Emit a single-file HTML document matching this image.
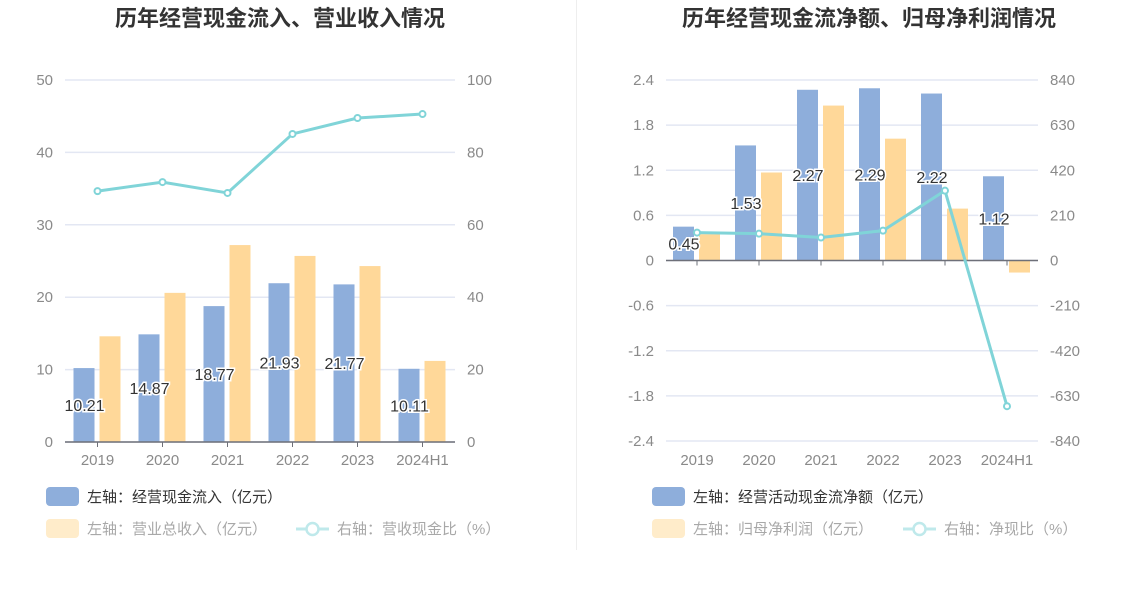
<!DOCTYPE html>
<html><head><meta charset="utf-8">
<style>
html,body{margin:0;padding:0;background:#fff;}
body{width:1148px;height:589px;overflow:hidden;font-family:"Liberation Sans","Noto Sans CJK SC",sans-serif;}
svg text{font-family:"Liberation Sans","Noto Sans CJK SC",sans-serif;}
</style></head>
<body>
<svg id="c" width="1148" height="589" xmlns="http://www.w3.org/2000/svg"></svg>
<script>
const categories = ["2019","2020","2021","2022","2023","2024H1"];
const leftBlue = [10.21,14.87,18.77,21.93,21.77,10.11];
const leftOrange = [14.6,20.6,27.2,25.7,24.3,11.2];
const leftLine = [69.3,71.8,68.8,85.1,89.5,90.6];
const leftTicksL = [0,10,20,30,40,50];
const leftTicksR = [0,20,40,60,80,100];
const rightBlue = [0.45,1.53,2.27,2.29,2.22,1.12];
const rightOrange = [0.35,1.17,2.06,1.62,0.69,-0.16];
const rightLine = [130,125,107,139,325,-678];
const rightTicksL = [-2.4,-1.8,-1.2,-0.6,0,0.6,1.2,1.8,2.4];
const rightTicksR = [-840,-630,-420,-210,0,210,420,630,840];

const NS="http://www.w3.org/2000/svg";
const svg=document.getElementById('c');
function mk(tag,attrs,parent){const e=document.createElementNS(NS,tag);for(const k in attrs)e.setAttribute(k,attrs[k]);(parent||svg).appendChild(e);return e;}
function txt(s,attrs,parent){const e=mk('text',attrs,parent);e.textContent=s;return e;}

function chart(o){
  const g=mk('g',{});
  
  
  const t=txt(o.title,{x:o.cx,y:26,'text-anchor':'middle','font-size':22,'font-weight':'bold',fill:'#333'},g);
  
  
  const yL=v=>o.y0-(v-o.lmin)/(o.lmax-o.lmin)*(o.y0-o.y1);
  const yR=v=>o.y0-(v-o.rmin)/(o.rmax-o.rmin)*(o.y0-o.y1);
  const bw=(o.x1-o.x0)/categories.length;
  const xc=i=>o.x0+bw*(i+0.5);
  o.ticksL.forEach((v,i)=>{
    const y=yL(v);
    const gl=mk('line',{x1:o.x0,x2:o.x1,y1:y,y2:y,stroke:'#e3e7f3','stroke-width':1.5},g);
    
    
    const tl=txt(String(v),{x:o.x0-12,y:y+5,'text-anchor':'end','font-size':15,fill:'#8a8a8a'},g);
    
    
    const tr=txt(String(o.ticksR[i]),{x:o.x1+12,y:y+5,'text-anchor':'start','font-size':15,fill:'#8a8a8a'},g);
    
    
  });
  const zy=yL(0);
  categories.forEach((c,i)=>{
    const x=xc(i);
    const b1=o.blue[i],b2=o.orange[i];
    const r1=mk('rect',{x:x-24,y:Math.min(yL(b1),zy),width:21,height:Math.abs(yL(b1)-zy),fill:'#8eaedb'},g);
    
    
    const r2=mk('rect',{x:x+2,y:Math.min(yL(b2),zy),width:21,height:Math.abs(yL(b2)-zy),fill:'#ffd899'},g);
    
    
  });
  const ax=mk('line',{x1:o.x0,x2:o.x1,y1:zy,y2:zy,stroke:'#6e7079','stroke-width':1.5},g);
  
  
  categories.forEach((c,i)=>{
    const x=xc(i);
    const tk=mk('line',{x1:x,x2:x,y1:zy,y2:zy+5,stroke:'#6e7079','stroke-width':1},g);
    
    
    const xl=txt(c,{x:x,y:o.labelY,'text-anchor':'middle','font-size':15,fill:'#8a8a8a'},g);
    
    
  });
  const pts=o.line.map((v,i)=>[xc(i),yR(v)]);
  const pl=mk('polyline',{points:pts.map(p=>p.join(',')).join(' '),fill:'none',stroke:'#80d4d8','stroke-width':3},g);
  
  
  pts.forEach((p,i)=>{
    const ci=mk('circle',{cx:p[0],cy:p[1],r:3,fill:'#fff',stroke:'#80d4d8','stroke-width':2},g);
    
    
  });
  categories.forEach((c,i)=>{
    const v=o.blue[i];
    const y=(yL(v)+zy)/2+6;
    const l=txt(v.toFixed(2),{x:xc(i)-13,y:y,'text-anchor':'middle','font-size':16,fill:'#333',stroke:'#fff','stroke-width':3,'paint-order':'stroke'},g);
    
    
  });
  const lx=o.legX;
  const r1=mk('rect',{x:lx,y:487,width:33,height:19,rx:4,fill:'#8eaedb'},g);
  
  
  const t1=txt(o.leg1,{x:lx+41,y:502,'font-size':15,fill:'#333'},g);
  
  
  const r2=mk('rect',{x:lx,y:519,width:33,height:19,rx:4,fill:'#ffecca'},g);
  
  
  const t2=txt(o.leg2,{x:lx+41,y:534,'font-size':15,fill:'#a8a8a8'},g);
  
  
  const ll=mk('line',{x1:o.leg3x,x2:o.leg3x+33,y1:529,y2:529,stroke:'#bfe9eb','stroke-width':3},g);
  
  
  const lc=mk('circle',{cx:o.leg3x+16.5,cy:529,r:6,fill:'#fff',stroke:'#bfe9eb','stroke-width':2.5},g);
  
  
  const t3=txt(o.leg3,{x:o.leg3x+41,y:534,'font-size':15,fill:'#a8a8a8'},g);
  
  
}
chart({name:'left-chart',title:'历年经营现金流入、营业收入情况',cx:280,x0:65,x1:455,y0:442,y1:80,lmin:0,lmax:50,rmin:0,rmax:100,
  ticksL:leftTicksL,ticksR:leftTicksR,blue:leftBlue,orange:leftOrange,line:leftLine,labelY:465,
  legX:46,leg1:'左轴：经营现金流入（亿元）',leg2:'左轴：营业总收入（亿元）',leg3x:296,leg3:'右轴：营收现金比（%）'});
chart({name:'right-chart',title:'历年经营现金流净额、归母净利润情况',cx:869,x0:666,x1:1038,y0:441,y1:80,lmin:-2.4,lmax:2.4,rmin:-840,rmax:840,
  ticksL:rightTicksL,ticksR:rightTicksR,blue:rightBlue,orange:rightOrange,line:rightLine,labelY:465,
  legX:652,leg1:'左轴：经营活动现金流净额（亿元）',leg2:'左轴：归母净利润（亿元）',leg3x:903,leg3:'右轴：净现比（%）'});
const dv=mk('line',{x1:576.5,x2:576.5,y1:0,y2:550,stroke:'#eeeeee','stroke-width':1});


</script>
</body></html>
